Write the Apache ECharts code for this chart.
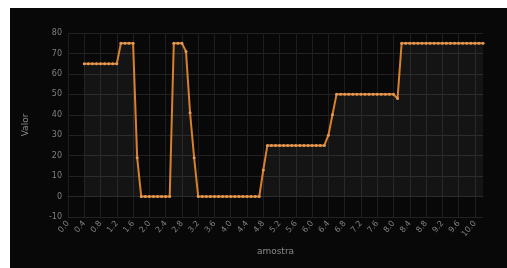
<!DOCTYPE html>
<html>
<head>
<meta charset="utf-8">
<script src="https://cdn.jsdelivr.net/npm/echarts@6/dist/echarts.min.js"></script>
<style>
html,body{margin:0;padding:0;background:#ffffff;}
#chart{position:absolute;left:10px;top:8px;width:497px;height:260px;background:#080808;}
</style>
</head>
<body>
<div id="chart"></div>
<script>
var categories = ["0.0","0.1","0.2","0.3","0.4","0.5","0.6","0.7","0.8","0.9",
"1.0","1.1","1.2","1.3","1.4","1.5","1.6","1.7","1.8","1.9",
"2.0","2.1","2.2","2.3","2.4","2.5","2.6","2.7","2.8","2.9",
"3.0","3.1","3.2","3.3","3.4","3.5","3.6","3.7","3.8","3.9",
"4.0","4.1","4.2","4.3","4.4","4.5","4.6","4.7","4.8","4.9",
"5.0","5.1","5.2","5.3","5.4","5.5","5.6","5.7","5.8","5.9",
"6.0","6.1","6.2","6.3","6.4","6.5","6.6","6.7","6.8","6.9",
"7.0","7.1","7.2","7.3","7.4","7.5","7.6","7.7","7.8","7.9",
"8.0","8.1","8.2","8.3","8.4","8.5","8.6","8.7","8.8","8.9",
"9.0","9.1","9.2","9.3","9.4","9.5","9.6","9.7","9.8","9.9",
"10.0","10.1","10.2"];
var values = [null,null,null,null,
65,65,65,65,65,65,65,65,65,
75,75,75,75,
19,
0,0,0,0,0,0,0,0,
75,75,75,
71,41,19,
0,0,0,0,0,0,0,0,0,0,0,0,0,0,0,0,
13,
25,25,25,25,25,25,25,25,25,25,25,25,25,25,25,
30,40,
50,50,50,50,50,50,50,50,50,50,50,50,50,50,50,
48,
75,75,75,75,75,75,75,75,75,75,75,75,75,75,75,75,75,75,75,75,75];
var yMin = -10, yMax = 80, yStep = 10;
var xName = "amostra", yName = "Valor";

var chart = echarts.init(document.getElementById('chart'));
chart.setOption({
  backgroundColor: '#080808',
  animation: false,
  grid: {left: 58, right: 24, top: 25, bottom: 51, containLabel: false},
  xAxis: {
    type: 'category',
    data: categories,
    boundaryGap: false,
    name: xName,
    nameLocation: 'middle',
    nameGap: 30,
    nameTextStyle: {color: '#8a8a8a', fontSize: 9, fontFamily: 'DejaVu Sans'},
    axisLine: {show: true, lineStyle: {color: '#262626'}},
    axisTick: {show: false},
    axisLabel: {interval: 3, rotate: 50, color: '#808080', fontSize: 8, margin: 5, fontFamily: 'DejaVu Sans'},
    splitLine: {show: true, interval: 3, lineStyle: {color: '#1e1e1e', width: 1}}
  },
  yAxis: {
    type: 'value',
    min: yMin, max: yMax, interval: yStep,
    name: yName,
    nameLocation: 'middle',
    nameGap: 38,
    nameTextStyle: {color: '#8a8a8a', fontSize: 9, fontFamily: 'DejaVu Sans'},
    axisLine: {show: false},
    axisTick: {show: false},
    axisLabel: {color: '#808080', fontSize: 8, margin: 6, fontFamily: 'DejaVu Sans'},
    splitLine: {show: true, lineStyle: {color: '#222222', width: 1}}
  },
  series: [{
    type: 'line',
    data: values,
    connectNulls: false,
    showSymbol: true,
    showAllSymbol: true,
    symbol: 'circle',
    symbolSize: 3,
    lineStyle: {color: '#d9802c', width: 2},
    itemStyle: {color: '#e39a58'},
    areaStyle: {color: 'rgba(255,255,255,0.07)'}
  }]
});
</script>
</body>
</html>
